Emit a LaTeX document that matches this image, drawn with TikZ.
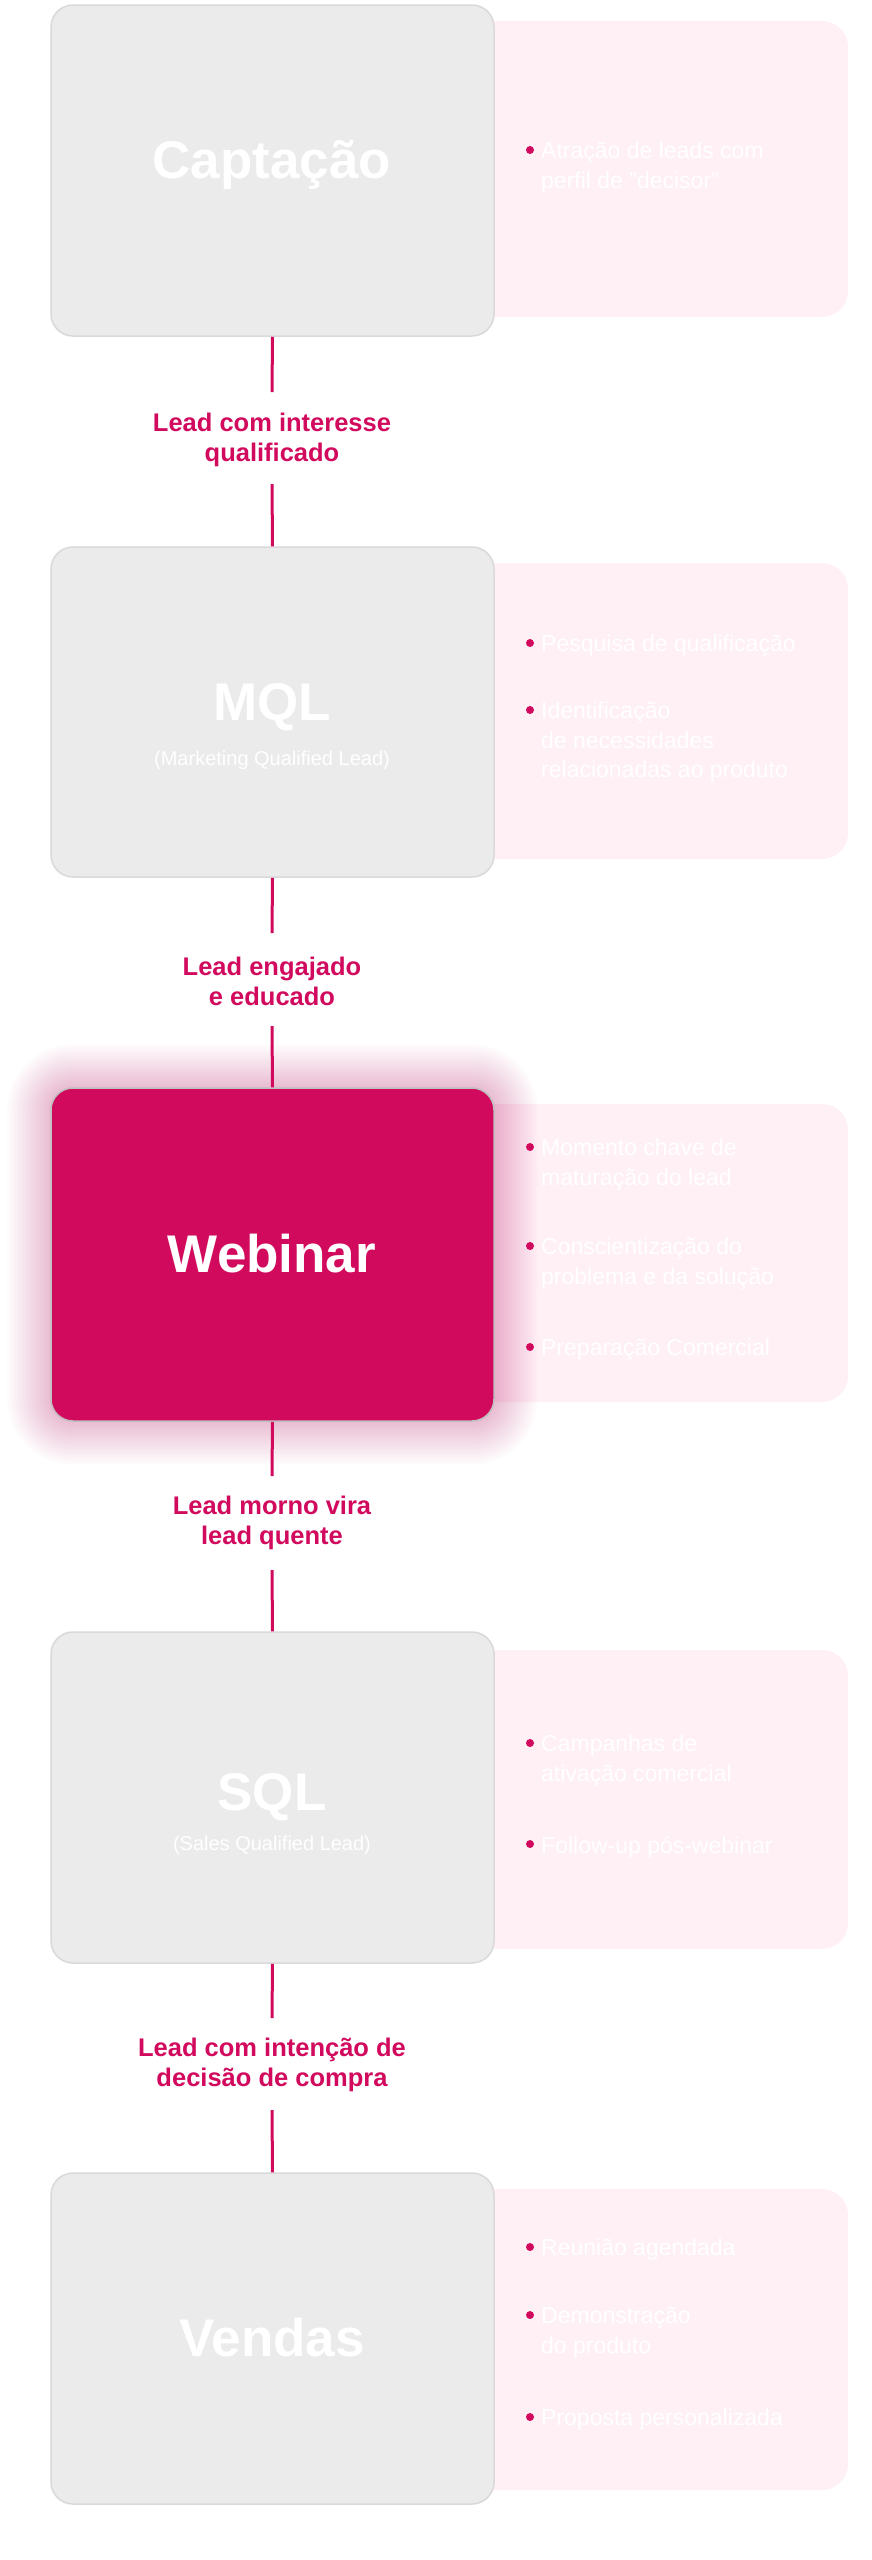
\documentclass[tikz,border=0pt]{standalone}
\usepackage{fontspec}
\setmainfont{Liberation Sans}
\definecolor{mag}{HTML}{D20A5E}
\definecolor{boxg}{HTML}{EBEBEB}
\definecolor{sidep}{HTML}{FFF0F6}
\begin{document}
\begin{tikzpicture}[x=1pt,y=-1pt,
  mainbox/.style={rounded corners=22pt,fill=boxg,draw=black!15,line width=1.5pt,minimum width=443pt,inner sep=0pt},
  sidebox/.style={rounded corners=26pt,fill=sidep,draw=none},
  ttl/.style={text=white,font=\bfseries\fontsize{53}{56}\selectfont},
  sub/.style={text=white,font=\fontsize{20}{24}\selectfont},
  lbl/.style={text=mag,font=\bfseries\fontsize{25.5}{30}\selectfont,align=center},
  itm/.style={text=white,font=\fontsize{23}{29.5}\selectfont,align=left,anchor=north west,inner sep=0pt},
  dot/.style={circle,fill=mag,inner sep=0pt,minimum size=8pt},
  conn/.style={draw=mag,line width=3pt}]
\useasboundingbox (0,0) rectangle (871,2560);
\fill[white] (0,0) rectangle (871,2560);
% side panels
\fill[sidebox] (470,21) rectangle (848,317);
\fill[sidebox] (470,563) rectangle (848,859);
\fill[sidebox] (470,1104) rectangle (848,1402);
\fill[sidebox] (470,1650) rectangle (848,1949);
\fill[sidebox] (470,2189) rectangle (848,2490);
% webinar glow
\foreach \g in {44,42,...,2}{
  \fill[mag,opacity=0.011,rounded corners=22pt+\g pt] (51-\g,1088-\g) rectangle (494+\g,1421+\g);}
% main boxes
\node[mainbox,minimum height=331pt] (cap) at (272.5,170.5) {};
\node[mainbox,minimum height=330pt] (mql) at (272.5,712) {};
\node[mainbox,minimum height=333pt,fill=mag,draw=black!25] (web) at (272.5,1254.5) {};
\node[mainbox,minimum height=331pt] (sql) at (272.5,1797.5) {};
\node[mainbox,minimum height=331pt] (ven) at (272.5,2338.5) {};
\node[ttl] (capt) at (272,165) {Captação};
\node[ttl] (mqlt) at (272,707) {MQL};
\node[sub] (mqls) at (272,760) {(Marketing Qualified Lead)};
\node[ttl] (webt) at (272,1254) {Webinar};
\node[ttl] (sqlt) at (272,1797) {SQL};
\node[sub] (sqls) at (272,1845) {(Sales Qualified Lead)};
\node[ttl] (vent) at (272,2338) {Vendas};
% connector labels
\node[lbl] (l1) at (272,440) {Lead com interesse\\qualificado};
\node[lbl] (l2) at (272,981) {Lead engajado\\e educado};
\node[lbl] (l3) at (272,1523) {Lead morno vira\\lead quente};
\node[lbl] (l4) at (272,2065) {Lead com intenção de\\decisão de compra};
\coordinate (a1) at (272,392); \coordinate (b1) at (272,484);
\coordinate (a2) at (272,933); \coordinate (b2) at (272,1026);
\coordinate (a3) at (272,1476); \coordinate (b3) at (272,1570);
\coordinate (a4) at (272,2018); \coordinate (b4) at (272,2110);
\draw[conn] (cap.south) -- (a1); \draw[conn] (b1) -- (mql.north);
\draw[conn] (mql.south) -- (a2); \draw[conn] (b2) -- (web.north);
\draw[conn] (web.south) -- (a3); \draw[conn] (b3) -- (sql.north);
\draw[conn] (sql.south) -- (a4); \draw[conn] (b4) -- (ven.north);
% items
\newcommand{\itemat}[3]{\node[dot] (#1d) at (530,#2-7) {}; \node[itm] (#1) at (541,#2-15) {#3};}
\itemat{c1}{157}{Atração de leads com\\perfil de "decisor"}
\itemat{m1}{650}{Pesquisa de qualificação}
\itemat{m2}{717}{Identificação\\de necessidades\\relacionadas ao produto}
\itemat{w1}{1154}{Momento chave de\\maturação do lead}
\itemat{w2}{1253}{Conscientização do\\problema e da solução}
\itemat{w3}{1354}{Preparação Comercial}
\itemat{s1}{1750}{Campanhas de\\ativação comercial}
\itemat{s2}{1851}{Follow-up pós-webinar}
\itemat{v1}{2254}{Reunião agendada}
\itemat{v2}{2322}{Demonstração\\do produto}
\itemat{v3}{2424}{Proposta personalizada}
\end{tikzpicture}
\end{document}
